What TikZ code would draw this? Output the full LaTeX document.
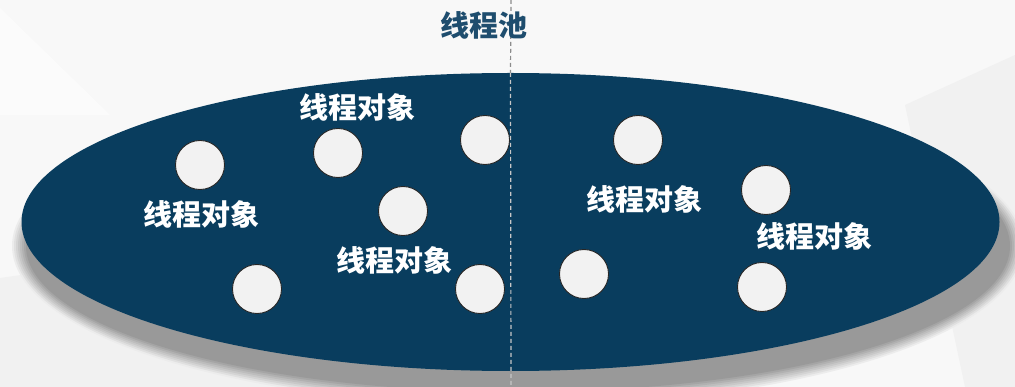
\documentclass[tikz,border=0pt]{standalone}
\usepackage{fontspec}
\newfontfamily\cjk{Noto Sans CJK SC}
\usetikzlibrary{shapes.geometric}
\definecolor{bgc}{HTML}{F8F8F8}
\definecolor{bgshade}{HTML}{F1F1F1}
\definecolor{poolc}{HTML}{093D5E}
\definecolor{shadowc}{HTML}{999999}
\definecolor{titlec}{HTML}{1E4D6E}
\definecolor{ballc}{HTML}{F2F2F2}
\tikzset{
  ball/.style={circle, minimum size=49pt, inner sep=0pt, fill=ballc, draw=black!85, line width=0.9pt},
  objlabel/.style={text=white, font=\cjk\bfseries\fontsize{29}{29}\selectfont, inner sep=0pt},
  titlelabel/.style={text=titlec, font=\cjk\bfseries\fontsize{29}{29}\selectfont, inner sep=0pt},
  divider/.style={line width=1.2pt, dash pattern=on 4pt off 3pt},
}
\begin{document}
\begin{tikzpicture}[x=1pt,y=-1pt]
  % canvas
  \fill[bgc] (0,0) rectangle (1015,387);
  \useasboundingbox (0,0) rectangle (1015,387);
  % faint background facets
  \fill[bgshade] (0,278) -- (70,268) -- (310,387) -- (0,387) -- cycle;
  \fill[bgshade] (905,105) -- (1015,55) -- (1015,387) -- (965,387) -- cycle;
  \fill[white, opacity=0.5] (0,8) -- (110,115) -- (0,115) -- cycle;

  % soft drop shadow under the pool
  \foreach \k in {0,...,7} {
    \pgfmathsetmacro{\p}{(\k+1)*12.5}
    \pgfmathsetmacro{\grow}{8-2*\k}
    \fill[shadowc!\p!bgc] (518,246) ellipse [x radius=498+\grow, y radius=152+\grow];
  }

  % the pool itself
  \node[ellipse, minimum width=978pt, minimum height=298pt, inner sep=0pt, fill=poolc] (pool) at (510.5,222) {};

  % divider line
  \coordinate (dtop) at (511,0);
  \coordinate (dbot) at (511,387);
  \draw[divider, draw=black!45] (dtop) -- (pool.north);
  \draw[divider, draw=white!78!black] (pool.north) -- (dbot);

  % title
  \node[titlelabel] (title) at (484,25) {线程池};

  % thread objects
  \node[ball] (c1) at (200,165) {};
  \node[ball] (c2) at (338,153) {};
  \node[ball] (c3) at (485,140) {};
  \node[ball] (c4) at (403,211) {};
  \node[ball] (c5) at (257,289) {};
  \node[ball] (c6) at (480,289) {};
  \node[ball] (c7) at (584,274) {};
  \node[ball] (c8) at (638,140) {};
  \node[ball] (c9) at (766,190) {};
  \node[ball] (c10) at (762,287) {};

  % labels
  \node[objlabel] (l1) at (357,107) {线程对象};
  \node[objlabel] (l2) at (201,214) {线程对象};
  \node[objlabel] (l3) at (394,260) {线程对象};
  \node[objlabel] (l4) at (644,199) {线程对象};
  \node[objlabel] (l5) at (814,236) {线程对象};
\end{tikzpicture}
\end{document}
